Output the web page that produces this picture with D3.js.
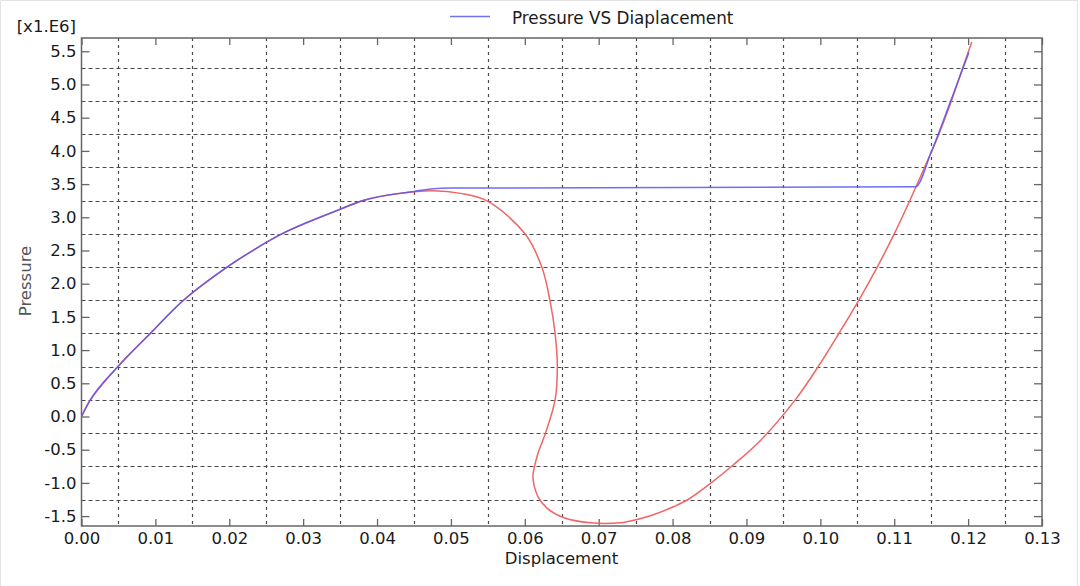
<!DOCTYPE html>
<html><head><meta charset="utf-8">
<script src="https://cdn.jsdelivr.net/npm/d3@7"></script>
<style>
body{margin:0;background:#fff;}
text{font-family:"DejaVu Sans",Verdana,sans-serif;}
</style></head>
<body>
<svg id="chart" width="1080" height="586"></svg>
<script>
// ---- data ----
const xTicks = [0,0.01,0.02,0.03,0.04,0.05,0.06,0.07,0.08,0.09,0.10,0.11,0.12,0.13];
const yTicks = [-1.5,-1.0,-0.5,0.0,0.5,1.0,1.5,2.0,2.5,3.0,3.5,4.0,4.5,5.0,5.5];
const xGrid = [0.005,0.015,0.025,0.035,0.045,0.055,0.065,0.075,0.085,0.095,0.105,0.115,0.125];
const yGrid = [-1.25,-0.75,-0.25,0.25,0.75,1.25,1.75,2.25,2.75,3.25,3.75,4.25,4.75,5.25];

const blueX = [0,0.0012,0.005,0.0093,0.0138,0.0197,0.0229,0.0271,0.035,0.038,0.045,0.0476,0.050,0.1129,0.1150,0.1176,0.1201];
const blueY = [0,0.25,0.76,1.25,1.75,2.25,2.48,2.75,3.12,3.25,3.39,3.43,3.44,3.46,3.98,4.74,5.48];

const redX = [0,0.0012,0.005,0.0093,0.0138,0.0197,0.0229,0.0271,0.035,0.038,0.043,0.0476,0.0513,0.055,0.0601,0.0623,0.0634,0.0641,0.0644,0.0641,0.0628,0.0618,0.0613,0.0611,0.0618,0.0630,0.0652,0.0689,0.0729,0.0752,0.0774,0.0801,0.0821,0.0851,0.0882,0.0919,0.0966,0.0997,0.1025,0.1052,0.1077,0.1100,0.1121,0.1141,0.1160,0.1177,0.1192,0.1205];
const redY = [0,0.25,0.76,1.25,1.75,2.25,2.48,2.75,3.12,3.25,3.36,3.40,3.36,3.24,2.74,2.25,1.75,1.25,0.75,0.25,-0.25,-0.55,-0.76,-0.91,-1.21,-1.38,-1.52,-1.60,-1.60,-1.55,-1.48,-1.36,-1.25,-1.01,-0.73,-0.36,0.25,0.75,1.25,1.75,2.25,2.75,3.25,3.75,4.24,4.74,5.23,5.64];

const legendLabel = "Pressure VS Diaplacement";
const xTitle = "Displacement";
const yTitle = "Pressure";
const yMultiplier = "[x1.E6]";

// ---- layout ----
const L = 81.5, R = 1042, T = 38, B = 526;
const FS = "16.5px";
const svg = d3.select("#chart");
const x = d3.scaleLinear().domain([0,0.13]).range([L,R]);
const y = d3.scaleLinear().domain([-1.649,5.70]).range([B,T]);

// outer light border
svg.append("path").attr("d","M0.5,586 V0.5 H1077.5 V586").attr("fill","none").attr("stroke","#e2e2e2");

// grid
const g = svg.append("g");
g.selectAll(".vg").data(xGrid).join("line")
  .attr("x1",d=>Math.round(x(d))+0.5).attr("x2",d=>Math.round(x(d))+0.5)
  .attr("y1",T).attr("y2",B)
  .attr("stroke","#4a4a4a").attr("stroke-width",1.2).attr("stroke-dasharray","3,4");
g.selectAll(".hg").data(yGrid).join("line")
  .attr("y1",d=>Math.round(y(d))+0.5).attr("y2",d=>Math.round(y(d))+0.5)
  .attr("x1",L).attr("x2",R)
  .attr("stroke","#4a4a4a").attr("stroke-width",1.2).attr("stroke-dasharray","4,3");

// axes
const fx = d => d.toFixed(2);
const fy = d => d.toFixed(1);
function styleAxis(sel){
  sel.select(".domain").remove();
  sel.selectAll(".tick line").attr("stroke","#666").attr("stroke-width",1.3);
  sel.selectAll("text").attr("fill","#1a1a1a").style("font-size",FS).style("font-family","DejaVu Sans, Verdana, sans-serif");
}
svg.append("g").attr("transform",`translate(0,${B})`)
  .call(d3.axisBottom(x).tickValues(xTicks).tickFormat(fx).tickSize(-7).tickSizeOuter(0).tickPadding(6)).call(styleAxis);
svg.append("g").attr("transform",`translate(0,${T})`)
  .call(d3.axisTop(x).tickValues(xTicks).tickFormat("").tickSize(-7).tickSizeOuter(0)).call(styleAxis);
svg.append("g").attr("transform",`translate(${L},0)`)
  .call(d3.axisLeft(y).tickValues(yTicks).tickFormat(fy).tickSize(-8).tickSizeOuter(0).tickPadding(5)).call(styleAxis);
svg.append("g").attr("transform",`translate(${R},0)`)
  .call(d3.axisRight(y).tickValues(yTicks).tickFormat("").tickSize(-8).tickSizeOuter(0)).call(styleAxis);

// frame
svg.append("rect").attr("x",L).attr("y",T).attr("width",R-L).attr("height",B-T)
  .attr("fill","none").attr("stroke","#666").attr("stroke-width",1.5);

// lines
svg.append("clipPath").attr("id","clip").append("rect").attr("x",L).attr("y",T-4).attr("width",R-L).attr("height",B-T+4);
const redLine = d3.line().x(d=>x(d[0])).y(d=>y(d[1])).curve(d3.curveCatmullRom.alpha(0.5));
const blueLine = d3.line().x(d=>x(d[0])).y(d=>y(d[1])).curve(d3.curveMonotoneX);
const redData = redX.map((v,i)=>[v,redY[i]]);
const blueData = blueX.map((v,i)=>[v,blueY[i]]);
svg.append("path").datum(redData).attr("d",redLine).attr("clip-path","url(#clip)")
  .attr("fill","none").attr("stroke","#f06565").attr("stroke-width",1.5);
svg.append("path").datum(blueData).attr("d",blueLine).attr("clip-path","url(#clip)")
  .attr("fill","none").attr("stroke","#5555ee").attr("stroke-opacity",0.85).attr("stroke-width",1.5);

// legend
svg.append("line").attr("x1",450).attr("x2",490).attr("y1",16.5).attr("y2",16.5)
  .attr("stroke","#7070f0").attr("stroke-width",1.3);
svg.append("text").attr("x",512).attr("y",23.5).text(legendLabel)
  .attr("fill","#1a1a1a").style("font-size","16.8px");

// titles
svg.append("text").attr("x",561.5).attr("y",564).attr("text-anchor","middle").text(xTitle)
  .attr("fill","#1a1a1a").style("font-size",FS);
svg.append("text").attr("transform","translate(31,281) rotate(-90)").attr("text-anchor","middle").text(yTitle)
  .attr("fill","#555").style("font-size",FS);
svg.append("text").attr("x",76).attr("y",32).attr("text-anchor","end").text(yMultiplier)
  .attr("fill","#1a1a1a").style("font-size",FS);
</script>
</body></html>
